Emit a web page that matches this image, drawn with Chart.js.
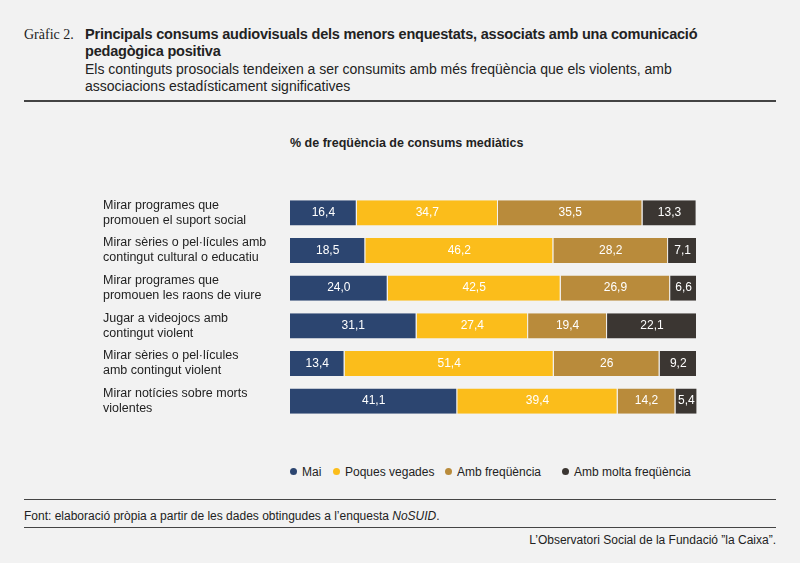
<!DOCTYPE html>
<html><head><meta charset="utf-8">
<script src="https://cdn.jsdelivr.net/npm/chart.js@4"></script>
<style>
body{margin:0;background:#f2f2f2;font-family:"Liberation Sans",Arial,sans-serif;color:#222;}
#wrap{position:relative;width:800px;height:563px;}
.hd{position:absolute;left:24px;top:26px;width:760px;}
.num{position:absolute;left:0;top:1px;font-family:"Liberation Serif",serif;font-size:14px;}
.tt{position:absolute;left:61px;top:0;font-weight:bold;font-size:14.5px;line-height:17px;letter-spacing:-0.2px}
.sub{position:absolute;left:61px;top:35px;font-size:14px;line-height:17px;}
.line{position:absolute;left:24px;width:752px;border-top:2px solid #444;}
#ctit{position:absolute;left:290px;top:136px;font-weight:bold;font-size:12.5px;}
#c{position:absolute;left:103px;top:171px;}
.lg{position:absolute;top:465px;font-size:12px;white-space:nowrap}
.lg i{display:inline-block;width:7px;height:7px;border-radius:50%;margin-right:5px;vertical-align:1px}
.src{position:absolute;left:24px;top:509px;font-size:12px;}
.ft{position:absolute;right:24px;top:533px;font-size:12px;}
</style></head><body>
<div id="wrap">
<div class="hd"><span class="num">Gràfic 2.</span>
<div class="tt">Principals consums audiovisuals dels menors enquestats, associats amb una comunicació<br>pedagògica positiva</div>
<div class="sub">Els continguts prosocials tendeixen a ser consumits amb més freqüència que els violents, amb<br>associacions estadísticament significatives</div></div>
<div class="line" style="top:100px"></div>
<div id="ctit">% de freqüència de consums mediàtics</div>
<canvas id="c" width="594" height="272" style="width:594px;height:272px"></canvas>
<div id="legend"></div>
<div class="line" style="top:499px;border-top-width:1px"></div>
<div class="src">Font: elaboració pròpia a partir de les dades obtingudes a l’enquesta <i>NoSUID</i>.</div>
<div class="line" style="top:527px;border-top-width:1px"></div>
<div class="ft">L’Observatori Social de la Fundació ”la Caixa”.</div>
</div>
<script>
const categories = [
  ['Mirar programes que','promouen el suport social'],
  ['Mirar sèries o pel·lícules amb','contingut cultural o educatiu'],
  ['Mirar programes que','promouen les raons de viure'],
  ['Jugar a videojocs amb','contingut violent'],
  ['Mirar sèries o pel·lícules','amb contingut violent'],
  ['Mirar notícies sobre morts','violentes']
];
const seriesNames = ['Mai','Poques vegades','Amb freqüència','Amb molta freqüència'];
const mai = [16.4,18.5,24.0,31.1,13.4,41.1];
const poques = [34.7,46.2,42.5,27.4,51.4,39.4];
const freq = [35.5,28.2,26.9,19.4,26,14.2];
const molta = [13.3,7.1,6.6,22.1,9.2,5.4];
const labelText = [
  ['16,4','18,5','24,0','31,1','13,4','41,1'],
  ['34,7','46,2','42,5','27,4','51,4','39,4'],
  ['35,5','28,2','26,9','19,4','26','14,2'],
  ['13,3','7,1','6,6','22,1','9,2','5,4']
];
const colors = ['#2c4570','#fbbd1b','#b98b3b','#3b3632'];

// html legend
const legendX = [290,333,445,562];
document.getElementById('legend').innerHTML = seriesNames.map((n,i)=>
  `<span class="lg" style="left:${legendX[i]}px"><i style="background:${colors[i]}"></i>${n}</span>`).join('');

const valuePlugin = {
  id:'vals',
  afterDatasetsDraw(chart){
    const ctx = chart.ctx;
    ctx.save();
    ctx.font = '12px "Liberation Sans", Arial, sans-serif';
    ctx.fillStyle = '#fff';
    ctx.textAlign = 'center'; ctx.textBaseline = 'middle';
    chart.data.datasets.forEach((ds,i)=>{
      chart.getDatasetMeta(i).data.forEach((bar,j)=>{
        ctx.fillText(labelText[i][j], (bar.x + bar.base)/2, bar.y);
      });
    });
    ctx.restore();
  }
};

new Chart(document.getElementById('c'), {
  type:'bar',
  data:{
    labels: categories,
    datasets: [mai,poques,freq,molta].map((d,i)=>({
      label: seriesNames[i], data: d, backgroundColor: colors[i],
      borderColor:'#f2f2f2', borderWidth:{right:1}, borderSkipped:false,
      barPercentage:0.67, categoryPercentage:1
    }))
  },
  options:{
    indexAxis:'y', responsive:false, animation:false,
    layout:{padding:0},
    scales:{
      x:{stacked:true,min:0,max:100,display:false},
      y:{stacked:true,grid:{display:false},border:{display:false},
         afterFit(s){s.width=187;},
         ticks:{crossAlign:'far',color:'#222',padding:8,font:{size:12.5,family:'"Liberation Sans", Arial, sans-serif'}}}
    },
    plugins:{tooltip:{enabled:false},legend:{display:false}}
  },
  plugins:[valuePlugin]
});
</script>
</body></html>
